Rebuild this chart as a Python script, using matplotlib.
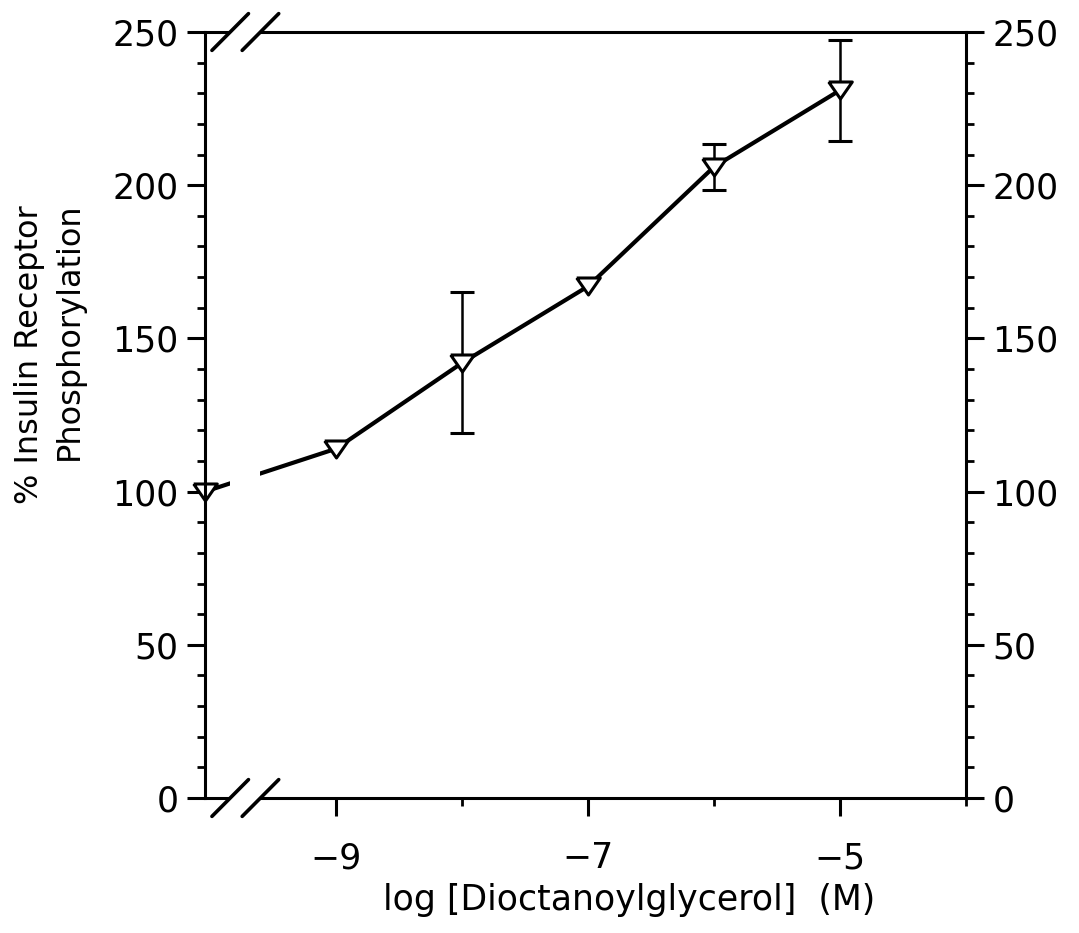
import matplotlib
matplotlib.use("Agg")
import matplotlib.pyplot as plt
from matplotlib.ticker import MultipleLocator, FixedLocator
import numpy as np

# dose (log M); first point is the control, drawn at the axis break
log_dose = [-10.04, -9, -8, -7, -6, -5]
phospho = [100, 114, 142, 167, 206, 231]
sem = [0, 0, 23, 0, 7.5, 16.5]

x_ticks = [-9, -7, -5]
x_minor = [-8, -6, -4]
brk = (-9.84, -9.60)  # axis break region

plt.rcParams['font.family'] = ['DejaVu Sans']

fig = plt.figure(figsize=(10.79, 9.33), dpi=100)
ax = fig.add_axes([0.190, 0.1447, 0.7053, 0.821])

# flat, open (white) down-triangle
tri = [(-1, 0.72), (1, 0.72), (0, -0.72), (-1, 0.72)]
ax.plot(log_dose, phospho, color='black', lw=3.0, zorder=2.3,
        marker=tri, markersize=17, markerfacecolor='white',
        markeredgecolor='black', markeredgewidth=2.2, clip_on=False)

x = np.array(log_dose)
y = np.array(phospho)
e = np.array(sem)
m = e > 0
ax.errorbar(x[m], y[m], yerr=e[m], fmt='none', ecolor='black',
            elinewidth=1.8, capsize=8.5, capthick=2.2, zorder=2.2)

ax.set_xlim(-10.04, -4)
ax.set_ylim(0, 250)

# white band hides line and spines inside the break
ax.axvspan(brk[0], brk[1], ymin=-0.01, ymax=1.01, color='white', lw=0,
           zorder=2.8, clip_on=False)
tr = ax.get_xaxis_transform()
dx, dy = 0.145, 0.024
for yb in (0, 1):
    for xb in brk:
        ax.plot([xb - dx, xb + dx], [yb - dy, yb + dy], color='black',
                lw=2.6, transform=tr, clip_on=False, zorder=4,
                solid_capstyle='round')

for s in ax.spines.values():
    s.set_linewidth(2.2)

ax.xaxis.set_major_locator(FixedLocator(x_ticks))
ax.xaxis.set_minor_locator(FixedLocator(x_minor))
ax.yaxis.set_major_locator(MultipleLocator(50))
ax.yaxis.set_minor_locator(MultipleLocator(10))
ax.set_xticklabels([str(v).replace('-', '\u2212') for v in x_ticks])

ax.tick_params(axis='both', which='major', direction='out', length=13,
               width=2.2, labelsize=25)
ax.tick_params(axis='both', which='minor', direction='out', length=6,
               width=2.0)
ax.tick_params(axis='y', which='both', left=True, right=True,
               labelleft=True, labelright=True)
ax.tick_params(axis='y', which='major', pad=6)
ax.tick_params(axis='x', which='major', pad=18)
ax.tick_params(axis='x', which='both', top=False)

fig.text(0.027, 0.620, '% Insulin Receptor', rotation=90, fontsize=23,
         ha='center', va='center')
fig.text(0.064, 0.645, 'Phosphorylation', rotation=90, fontsize=23,
         ha='center', va='center')
fig.text(0.583, 0.025, 'log [Dioctanoylglycerol]  (M)', fontsize=25,
         ha='center', va='baseline')

fig.savefig('out.png', dpi=100)
